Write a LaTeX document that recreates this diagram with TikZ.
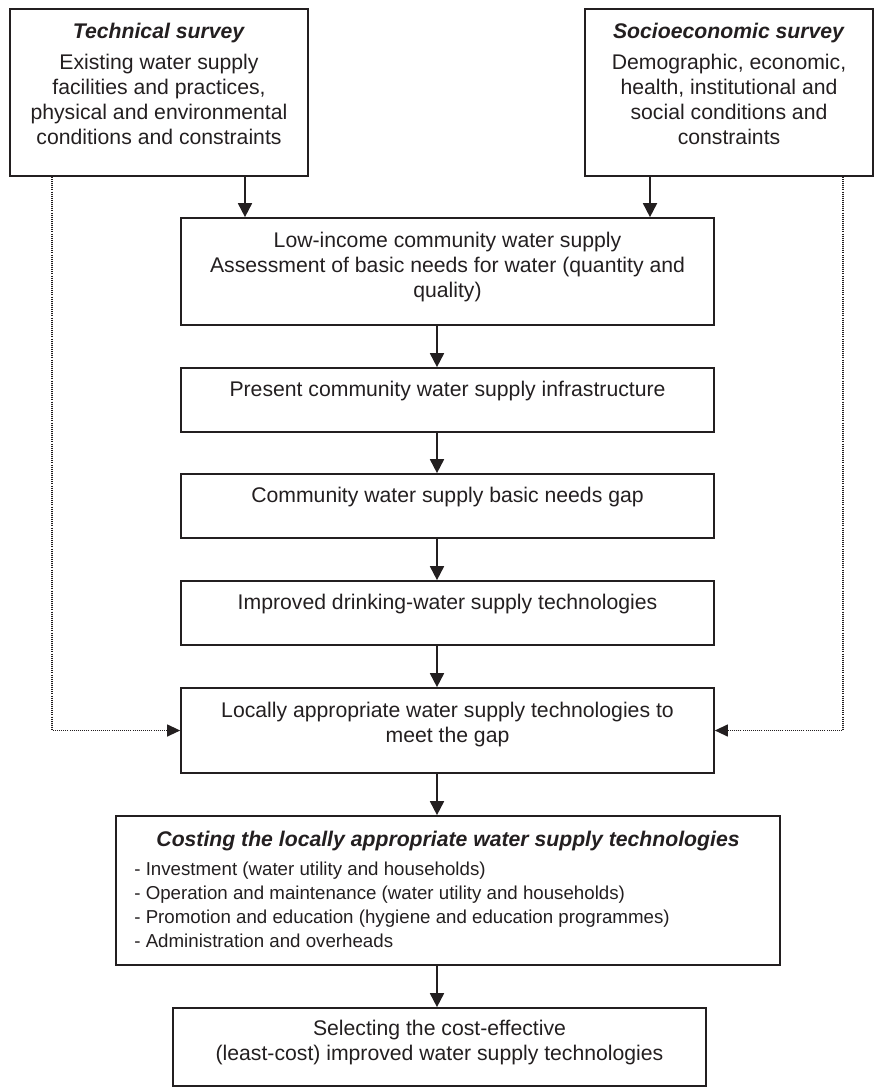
\documentclass[tikz,border=0pt]{standalone}
\usepackage{fontspec}
\setmainfont{Liberation Sans}
\usetikzlibrary{arrows.meta,positioning}
\definecolor{ink}{HTML}{231F20}

\begin{document}
\begin{tikzpicture}[x=1pt, y=-1pt,
            every node/.style = {font=\fontsize{21.2}{25}\selectfont, text=ink},
            frame/.style = {draw=ink, line width=1.7pt, minimum width=533pt, inner sep=0pt},
            txt/.style = {align=center, inner sep=0pt},
            flow/.style = {draw=ink, line width=1.8pt, -{Triangle[length=14pt,width=14pt]}},
            hint/.style = {draw=ink, line width=1.2pt, dash pattern=on 1pt off 1.1pt,
                           -{Triangle[length=13pt,width=12pt]}}]
\useasboundingbox (0,0) rectangle (876,1090);

% columns of the connectors
\coordinate (ldot) at (52,0);
\coordinate (lx) at (245,0);
\coordinate (spine) at (437,0);
\coordinate (rx) at (650,0);
\coordinate (rdot) at (843,0);

% surveys
\node[frame, minimum width=298pt, minimum height=167pt] (tech) at (159,92.5) {};
\node[txt, below=15pt of tech.north] (tech-t) {\textbf{\textit{Technical survey}}\\[6pt]
    Existing water supply\\ facilities and practices,\\
    physical and environmental\\ conditions and constraints};
\node[frame, minimum width=288pt, minimum height=167pt] (socio) at (729,92.5) {};
\node[txt, below=15pt of socio.north] (socio-t) {\textbf{\textit{Socioeconomic survey}}\\[6pt]
    Demographic, economic,\\ health, institutional and\\
    social conditions and\\ constraints};

% main chain
\node[frame, minimum height=107pt] (needs) at (447.5,271.5) {};
\node[txt, below=15pt of needs.north] (needs-t) {Low-income community water supply\\
    Assessment of basic needs for water (quantity and\\ quality)};
\node[frame, minimum height=64pt] (infra) at (447.5,400) {};
\node[txt, below=14pt of infra.north] (infra-t) {Present community water supply infrastructure};
\node[frame, minimum height=64pt] (gap) at (447.5,506) {};
\node[txt, below=14pt of gap.north] (gap-t) {Community water supply basic needs gap};
\node[frame, minimum height=64pt] (improved) at (447.5,613) {};
\node[txt, below=14pt of improved.north] (improved-t) {Improved drinking-water supply technologies};
\node[frame, minimum height=85pt] (local) at (447.5,730.5) {};
\node[txt, below=15pt of local.north] (local-t) {Locally appropriate water supply technologies to\\ meet the gap};

% costing
\node[frame, minimum width=664pt, minimum height=149pt] (costing) at (448,890.5) {};
\node[txt, below=16pt of costing.north] (costing-t)
    {\textbf{\textit{Costing the locally appropriate water supply technologies}}};
\node[align=left, inner sep=0pt, font=\fontsize{18.7}{24}\selectfont,
      below right=47pt and 19pt of costing.north west] (costing-l)
    {- Investment (water utility and households)\\
     - Operation and maintenance (water utility and households)\\
     - Promotion and education (hygiene and education programmes)\\
     - Administration and overheads};

\node[frame, minimum height=78pt] (select) at (439.5,1047) {};
\node[txt, below=13pt of select.north] (select-t) {Selecting the cost-effective\\
    (least-cost) improved water supply technologies};

% connectors
\draw[flow] (tech.south -| lx) -- (needs.north -| lx);
\draw[flow] (socio.south -| rx) -- (needs.north -| rx);
\draw[flow] (needs.south -| spine) -- (infra.north -| spine);
\draw[flow] (infra.south -| spine) -- (gap.north -| spine);
\draw[flow] (gap.south -| spine) -- (improved.north -| spine);
\draw[flow] (improved.south -| spine) -- (local.north -| spine);
\draw[flow] (local.south -| spine) -- (costing.north -| spine);
\draw[flow] (costing.south -| spine) -- (select.north -| spine);
\draw[hint] (tech.south -| ldot) |- (local.west);
\draw[hint] (socio.south -| rdot) |- (local.east);

\end{tikzpicture}
\end{document}
